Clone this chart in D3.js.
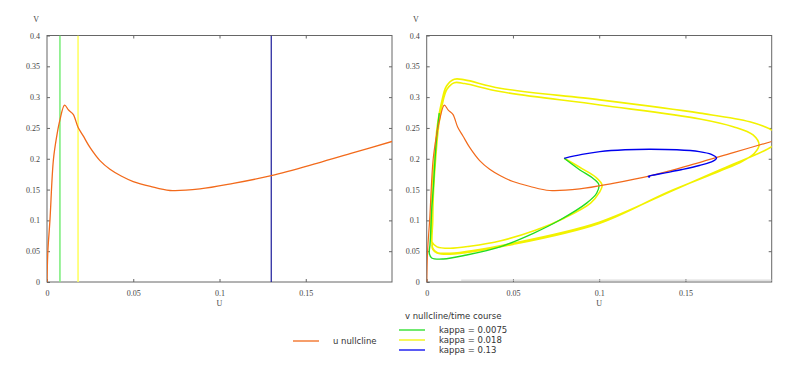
<!DOCTYPE html>
<html>
<head>
<meta charset="utf-8">
<script src="https://cdn.jsdelivr.net/npm/d3@7"></script>
<style>
body { margin:0; background:#fff; }
</style>
</head>
<body>
<script>
// u nullcline [u, v]
var nullU = [0, 0.0005, 0.0017, 0.0037, 0.0056, 0.0075, 0.0102, 0.0125, 0.0152, 0.018, 0.021, 0.025, 0.0307, 0.0365, 0.043, 0.05, 0.06, 0.0713, 0.0887, 0.108, 0.13, 0.1564, 0.1777, 0.2];
var nullV = [0, 0.05, 0.1, 0.198, 0.236, 0.263, 0.287, 0.279, 0.272, 0.251, 0.237, 0.218, 0.197, 0.183, 0.172, 0.163, 0.155, 0.1485, 0.151, 0.16, 0.1726, 0.1926, 0.21, 0.228];

// kappa values (v nullclines, left panel)
var kappas = [0.0075, 0.018, 0.13];
var kappaLabels = ["kappa = 0.0075", "kappa = 0.018", "kappa = 0.13"];

// time courses (right panel)
var greenU = [0.0797, 0.0888, 0.0965, 0.0998, 0.0985, 0.0927, 0.0772, 0.0618, 0.0425, 0.0232, 0.0096, 0.0029, 0.0015, 0.0019, 0.0023, 0.0029, 0.0039, 0.0048, 0.0058, 0.0073];
var greenV = [0.2007, 0.1818, 0.168, 0.158, 0.144, 0.128, 0.1006, 0.079, 0.057, 0.0438, 0.0373, 0.039, 0.0466, 0.06, 0.079, 0.117, 0.155, 0.198, 0.236, 0.274];

var yellowU = [0.0797, 0.09, 0.098, 0.1017, 0.1, 0.095, 0.08, 0.063, 0.043, 0.025, 0.0135, 0.006, 0.003, 0.0025, 0.003, 0.0045, 0.006, 0.0085, 0.0115, 0.016, 0.022, 0.0425, 0.1004, 0.1584, 0.1873, 0.2, 0.206,
               0.2, 0.1715, 0.143, 0.1, 0.05, 0.0135, 0.006, 0.0035, 0.0035, 0.004, 0.0052, 0.0068, 0.009, 0.0118, 0.016, 0.022, 0.0425, 0.1004, 0.1584, 0.1777, 0.1892, 0.1927, 0.19, 0.183, 0.17, 0.14, 0.1, 0.05, 0.0135, 0.006, 0.0035, 0.003];
var yellowV = [0.2007, 0.184, 0.17, 0.157, 0.145, 0.128, 0.104, 0.084, 0.067, 0.058, 0.0547, 0.057, 0.065, 0.1, 0.15, 0.2, 0.25, 0.29, 0.318, 0.329, 0.328, 0.3144, 0.2955, 0.274, 0.26, 0.2467, 0.235,
               0.2196, 0.184, 0.149, 0.097, 0.063, 0.0466, 0.048, 0.055, 0.1, 0.15, 0.2, 0.25, 0.288, 0.313, 0.3235, 0.322, 0.309, 0.2873, 0.2646, 0.252, 0.2386, 0.2224, 0.209, 0.196, 0.18, 0.146, 0.095, 0.061, 0.045, 0.047, 0.053, 0.06];

var blueU = [0.0797, 0.09, 0.1004, 0.115, 0.129, 0.145, 0.158, 0.165, 0.168, 0.166, 0.158, 0.148, 0.139, 0.1297, 0.1284, 0.1295];
var blueV = [0.2007, 0.207, 0.2115, 0.2145, 0.2154, 0.2145, 0.2115, 0.207, 0.2012, 0.196, 0.189, 0.1825, 0.1775, 0.1725, 0.171, 0.1702];

var xTicks = [0, 0.05, 0.1, 0.15];
var yTicks = [0, 0.05, 0.1, 0.15, 0.2, 0.25, 0.3, 0.35, 0.4];

var colors = ["#22dd22", "#f2f200", "#0000ee"];
var orange = "#f26a1b";

var totalWidth = 800, totalHeight = 381;
var svg = d3.select("body").append("svg")
    .attr("width", totalWidth)
    .attr("height", totalHeight);

var plotTop = 35.5, plotBottom = 282;
var plotWidth = 345;
var fmt = d3.format("~g");

function zip(us, vs) {
    return us.map(function(u, i) { return [u, vs[i]]; });
}

function panel(left, id) {
    var g = svg.append("g").attr("transform", "translate(" + left + ",0)");
    var x = d3.scaleLinear().domain([0, 0.2]).range([0, plotWidth]);
    var y = d3.scaleLinear().domain([0, 0.4]).range([plotBottom, plotTop]);

    g.append("clipPath").attr("id", id)
      .append("rect").attr("x", 0).attr("y", plotTop).attr("width", plotWidth).attr("height", plotBottom - plotTop);

    // frame
    g.append("rect")
      .attr("x", 0).attr("y", plotTop)
      .attr("width", plotWidth).attr("height", plotBottom - plotTop)
      .attr("fill", "none").attr("stroke", "#666").attr("stroke-width", 1);

    var axB = g.append("g").attr("transform", "translate(0," + plotBottom + ")")
      .call(d3.axisBottom(x).tickValues(xTicks).tickSizeInner(-3).tickSizeOuter(0).tickFormat(fmt));
    var axT = g.append("g").attr("transform", "translate(0," + plotTop + ")")
      .call(d3.axisTop(x).tickValues(xTicks.slice(1)).tickSizeInner(-3).tickSizeOuter(0).tickFormat(""));
    var axL = g.append("g")
      .call(d3.axisLeft(y).tickValues(yTicks).tickSizeInner(-3).tickSizeOuter(0).tickFormat(fmt));
    var axR = g.append("g").attr("transform", "translate(" + plotWidth + ",0)")
      .call(d3.axisRight(y).tickValues(yTicks.slice(1, -1)).tickSizeInner(-3).tickSizeOuter(0).tickFormat(""));

    [axB, axT, axL, axR].forEach(function(a) {
        a.select(".domain").remove();
        a.selectAll("line").attr("stroke", "#666");
        a.selectAll("text")
          .style("fill", "#444")
          .style("font-family", "'Liberation Serif', serif")
          .style("font-size", "8px");
    });
    axB.selectAll("text").attr("y", 8);
    axL.selectAll("text").attr("x", -7);

    g.append("text").attr("x", plotWidth / 2).attr("y", 306)
      .attr("text-anchor", "middle").style("fill", "#444")
      .style("font-family", "'Liberation Serif', serif").style("font-size", "8px")
      .text("U");
    g.append("text").attr("x", -8).attr("y", 22)
      .attr("text-anchor", "end").style("fill", "#444")
      .style("font-family", "'Liberation Serif', serif").style("font-size", "8px")
      .text("V");

    return {g: g, x: x, y: y, plot: g.append("g").attr("clip-path", "url(#" + id + ")")};
}

var L = panel(47, "clipL");
var R = panel(426.7, "clipR");

// faint grey trace along the bottom of the right panel
R.g.append("line")
    .attr("x1", R.x(0.02)).attr("x2", R.x(0.2))
    .attr("y1", R.y(0.003)).attr("y2", R.y(0.003))
    .attr("stroke", "#d0d0d0").attr("stroke-width", 1);

// left: v nullclines (vertical lines at u = kappa)
L.plot.selectAll(".kline")
    .data(kappas)
  .enter().append("line")
    .attr("x1", function(d) { return L.x(d); })
    .attr("x2", function(d) { return L.x(d); })
    .attr("y1", L.y(0)).attr("y2", L.y(0.4))
    .attr("stroke", function(d, i) { return ["#80ee80", "#ffff66", "#1a1a9a"][i]; })
    .attr("stroke-width", function(d, i) { return i < 2 ? 1.6 : 1.2; });

function drawLine(p, data, color, w) {
    var line = d3.line()
        .x(function(d) { return p.x(d[0]); })
        .y(function(d) { return p.y(d[1]); })
        .curve(d3.curveCatmullRom.alpha(0.5));
    p.plot.append("path")
      .datum(data)
      .attr("d", line)
      .attr("fill", "none")
      .attr("stroke", color)
      .attr("stroke-width", w);
}

drawLine(L, zip(nullU, nullV), orange, 1.3);

drawLine(R, zip(yellowU, yellowV), colors[1], 1.6);
drawLine(R, zip(greenU, greenV), colors[0], 1.4);
drawLine(R, zip(nullU, nullV), orange, 1.2);
drawLine(R, zip(blueU, blueV), colors[2], 1.4);

// legend
var leg = svg.append("g")
    .style("font-family", "'DejaVu Sans', sans-serif")
    .style("font-size", "8.5px")
    .attr("fill", "#333");

leg.append("line").attr("x1", 293).attr("x2", 319).attr("y1", 341).attr("y2", 341)
    .attr("stroke", orange).attr("stroke-width", 1.3);
leg.append("text").attr("x", 333).attr("y", 344).text("u nullcline");

leg.append("text").attr("x", 405).attr("y", 319).text("v nullcline/time course");

leg.selectAll(".kl")
    .data(kappaLabels)
  .enter().append("line")
    .attr("x1", 399).attr("x2", 425)
    .attr("y1", function(d, i) { return 330 + i * 10; })
    .attr("y2", function(d, i) { return 330 + i * 10; })
    .attr("stroke", function(d, i) { return colors[i]; })
    .attr("stroke-width", 1.3);
leg.selectAll(".kt")
    .data(kappaLabels)
  .enter().append("text")
    .attr("x", 439)
    .attr("y", function(d, i) { return 333 + i * 10; })
    .text(function(d) { return d; });
</script>
</body>
</html>
